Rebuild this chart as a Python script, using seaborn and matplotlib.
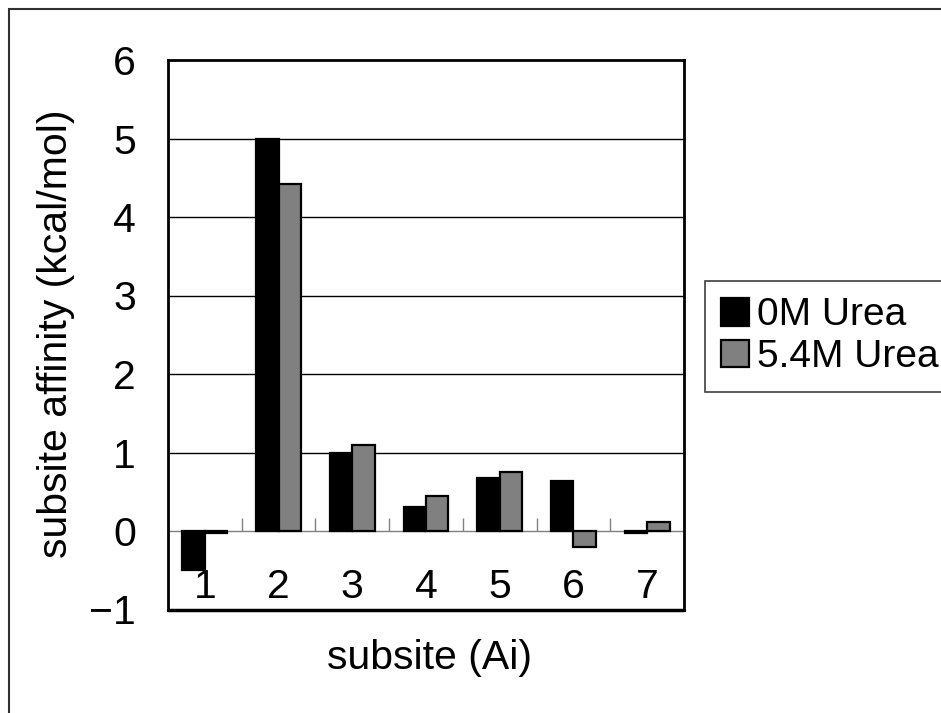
import matplotlib
matplotlib.use("Agg")
import matplotlib.pyplot as plt
import seaborn as sns
import pandas as pd
import numpy as np
from matplotlib.patches import Rectangle

# valores
subsites = ["1", "2", "3", "4", "5", "6", "7"]
urea_0m = [-0.50, 5.00, 1.00, 0.30, 0.68, 0.64, -0.02]
urea_54m = [-0.02, 4.42, 1.10, 0.45, 0.75, -0.20, 0.11]
series = ["0M Urea", "5.4M Urea"]

df = pd.DataFrame({
    "subsite": subsites * 2,
    "affinity": urea_0m + urea_54m,
    "cond": [series[0]] * 7 + [series[1]] * 7,
})

sns.set_style("white")
plt.rcParams["font.family"] = ["Liberation Sans", "DejaVu Sans"]
plt.rcParams["text.color"] = "black"
plt.rcParams["axes.labelcolor"] = "black"
fs = 29.5

fig = plt.figure(figsize=(9.41, 7.13), dpi=100)
ax = fig.add_axes([168 / 941, 1 - 609.5 / 713, 516 / 941, 549.5 / 713])

sns.barplot(
    data=df, x="subsite", y="affinity", hue="cond",
    order=subsites, hue_order=series,
    palette=["#000000", "#808080"],
    width=0.61, edgecolor="black", linewidth=1.6,
    saturation=1, ax=ax,
)

ax.set_ylim(-1, 6)
ax.set_xlim(-0.5, 6.5)
ax.set_yticks(range(-1, 7))
ax.tick_params(axis="y", length=0, pad=23, labelsize=fs, labelcolor="black")

# líneas de cuadrícula
for yv in range(1, 6):
    ax.axhline(yv, color="black", lw=1, zorder=0)

# eje de categorías en y=0
ax.spines["bottom"].set_position(("data", 0))
ax.spines["bottom"].set_color("#808080")
ax.spines["bottom"].set_linewidth(1)
ax.spines["bottom"].set_zorder(0.5)
for s in ["left", "right", "top"]:
    ax.spines[s].set_color("black")
    ax.spines[s].set_linewidth(2)
    ax.spines[s].set_visible(True)
ax.axhline(-1, color="black", lw=2.5, clip_on=False)

ax.set_xticks(np.arange(0.5, 6, 1), labels=[""] * 6)
ax.set_xticks(np.arange(7), labels=subsites, minor=True)
ax.tick_params(axis="x", which="major", direction="in", length=9.5,
               width=1, color="#808080", bottom=True)
ax.tick_params(axis="x", which="minor", length=0, pad=27, labelsize=fs,
               labelcolor="black")

ax.set_xlabel("subsite (Ai)", fontsize=fs)
ax.xaxis.set_label_coords(0.506, -0.053)
ax.set_ylabel("subsite affinity (kcal/mol)", fontsize=fs)
ax.yaxis.set_label_coords(-0.18, 0.501)

handles, labels = ax.get_legend_handles_labels()
ax.get_legend().remove()
leg = fig.legend(
    handles, labels, loc="upper left",
    bbox_to_anchor=(705 / 941, 1 - 281 / 713),
    fontsize=28, frameon=True, fancybox=False, framealpha=1,
    edgecolor="#404040", handlelength=0.72, handleheight=0.72,
    handletextpad=0.2, labelspacing=0.15, borderpad=0.42,
    borderaxespad=0,
)
leg.get_frame().set_linewidth(1.2)
for t in leg.get_texts():
    t.set_color("black")

# marco exterior del gráfico
fig.patches.append(Rectangle((9 / 941, -0.2), 1.2, 1.2 - 9 / 713,
                             transform=fig.transFigure, fill=False,
                             edgecolor="#303030", lw=1.5))

plt.savefig("out.png", dpi=100)
